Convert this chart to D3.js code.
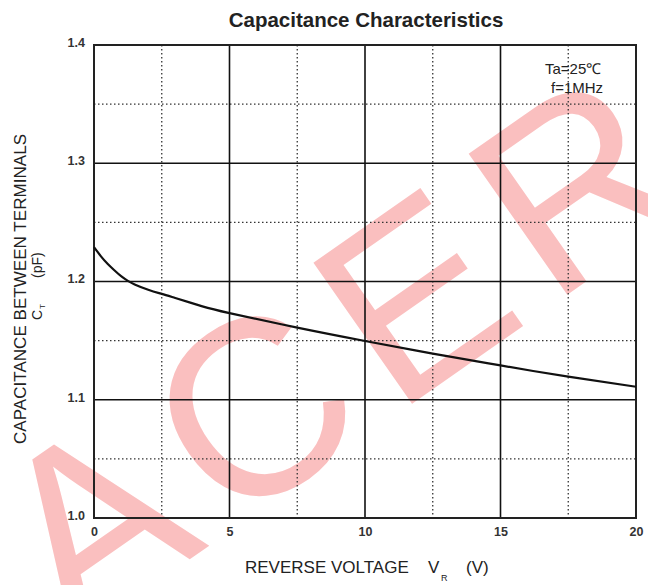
<!DOCTYPE html>
<html>
<head>
<meta charset="utf-8">
<script src="https://cdn.jsdelivr.net/npm/d3@7"></script>
<style>
  body { margin: 0; background: #fff; }
  text { font-family: "Liberation Sans", Arial, sans-serif; }
</style>
</head>
<body>
<div id="chart1"></div>
<script>
// curve
const voltage = [0, 0.25, 0.5, 0.75, 1, 1.25, 1.5, 2, 2.5, 3, 4, 5, 7.5, 10, 12.5, 15, 17.5, 20];
const capacitance = [1.229, 1.2215, 1.215, 1.2095, 1.2045, 1.2005, 1.1975, 1.193, 1.1895, 1.186, 1.179, 1.1733, 1.161, 1.1497, 1.139, 1.129, 1.1195, 1.111];

const xMajor = [0, 5, 10, 15, 20];
const xMinor = [2.5, 7.5, 12.5, 17.5];
const yMajor = [1.0, 1.1, 1.2, 1.3, 1.4];
const yMinor = [1.05, 1.15, 1.25, 1.35];

function drawChart() {
  const margin = {top: 45, right: 12, bottom: 67, left: 94};
  const W = 648, H = 585;
  const width = W - margin.left - margin.right;
  const height = H - margin.top - margin.bottom;

  const root = d3.select("#chart1")
    .append("svg")
      .attr("width", W)
      .attr("height", H);

  // watermark
  root.append("text")
    .attr("transform", "translate(73,641) rotate(-35)")
    .style("font-size", 250)
    .style("letter-spacing", "23px")
    .style("fill", "#fabfbf")
    .text("ACER");

  const svg = root.append("g")
    .attr("transform", `translate(${margin.left},${margin.top})`);

  const xs = d3.scaleLinear().domain([0, 20]).range([0, width]);
  const ys = d3.scaleLinear().domain([1.0, 1.4]).range([height, 0]);

  // dotted minor grid
  svg.selectAll(".xminor").data(xMinor).enter().append("line")
    .attr("x1", d => xs(d)).attr("x2", d => xs(d))
    .attr("y1", 0).attr("y2", height)
    .attr("stroke", "#333").attr("stroke-width", 1.3)
    .attr("stroke-dasharray", "1.5,2.5");
  svg.selectAll(".yminor").data(yMinor).enter().append("line")
    .attr("x1", 0).attr("x2", width)
    .attr("y1", d => ys(d)).attr("y2", d => ys(d))
    .attr("stroke", "#333").attr("stroke-width", 1.3)
    .attr("stroke-dasharray", "1.5,2.5");

  // solid major grid
  svg.selectAll(".xmajor").data(xMajor.slice(1, -1)).enter().append("line")
    .attr("x1", d => xs(d)).attr("x2", d => xs(d))
    .attr("y1", 0).attr("y2", height)
    .attr("stroke", "#111").attr("stroke-width", 1.6);
  svg.selectAll(".ymajor").data(yMajor.slice(1, -1)).enter().append("line")
    .attr("x1", 0).attr("x2", width)
    .attr("y1", d => ys(d)).attr("y2", d => ys(d))
    .attr("stroke", "#111").attr("stroke-width", 1.6);

  // frame
  svg.append("rect")
    .attr("width", width).attr("height", height)
    .attr("fill", "none").attr("stroke", "#222").attr("stroke-width", 2);

  // axes (labels only)
  const xAxis = svg.append("g")
    .attr("transform", `translate(0,${height})`)
    .call(d3.axisBottom(xs).tickValues(xMajor).tickSize(0).tickPadding(9).tickFormat(d3.format("d")));
  const yAxis = svg.append("g")
    .call(d3.axisLeft(ys).tickValues(yMajor).tickSize(0).tickPadding(9).tickFormat(d3.format(".1f")));
  [xAxis, yAxis].forEach(a => {
    a.select(".domain").remove();
    a.selectAll("text")
      .style("font-family", "'Liberation Sans', Arial, sans-serif")
      .style("font-size", 12.5)
      .style("font-weight", "bold")
      .style("fill", "#333");
  });
  yAxis.selectAll("text").attr("dy", "0.1em");

  // curve
  const line = d3.line()
    .x((d, i) => xs(voltage[i]))
    .y(d => ys(d))
    .curve(d3.curveNatural);
  svg.append("path")
    .attr("fill", "none")
    .attr("stroke", "#111")
    .attr("stroke-width", 2.2)
    .attr("d", line(capacitance));

  // conditions
  root.append("text")
    .attr("x", 545).attr("y", 74)
    .style("font-size", 15).style("fill", "#222")
    .text("Ta=25℃");
  root.append("text")
    .attr("x", 551).attr("y", 93)
    .style("font-size", 15).style("fill", "#222")
    .text("f=1MHz");

  // title
  root.append("text")
    .attr("x", 366).attr("y", 27)
    .attr("text-anchor", "middle")
    .style("font-size", 20.5).style("font-weight", "bold")
    .style("fill", "#222")
    .text("Capacitance Characteristics");

  // x label
  const xl = root.append("g").style("font-size", 17).style("fill", "#222");
  xl.append("text").attr("x", 245).attr("y", 573).text("REVERSE VOLTAGE");
  xl.append("text").attr("x", 428).attr("y", 573).text("V");
  xl.append("text").attr("x", 441).attr("y", 581).style("font-size", 9).text("R");
  xl.append("text").attr("x", 466).attr("y", 573).text("(V)");

  // y label
  root.append("text")
    .attr("transform", "translate(26,289) rotate(-90)")
    .attr("text-anchor", "middle")
    .attr("textLength", 310)
    .style("font-size", 17).style("fill", "#222")
    .text("CAPACITANCE BETWEEN TERMINALS");
  const yl = root.append("g")
    .attr("transform", "translate(42,0) rotate(-90)")
    .style("font-size", 14).style("fill", "#222");
  yl.append("text").attr("x", -320).attr("y", 0).text("C");
  yl.append("text").attr("x", -309).attr("y", 3).style("font-size", 8).text("T");
  yl.append("text").attr("x", -278).attr("y", 0).text("(pF)");
}

drawChart();
</script>
</body>
</html>
